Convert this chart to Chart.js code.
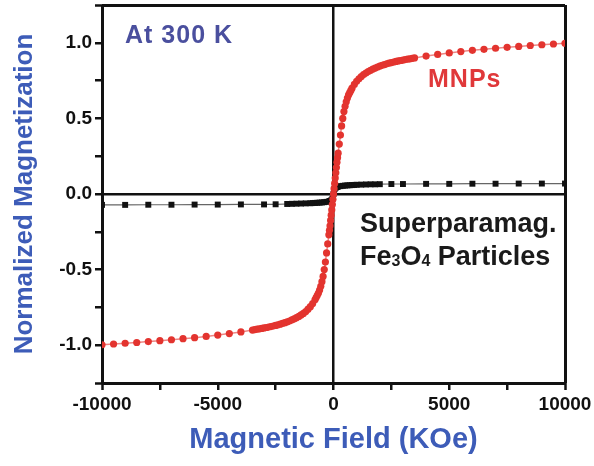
<!DOCTYPE html>
<html lang="en">
<head>
    <meta charset="UTF-8">
    <title>Normalized Magnetization vs Magnetic Field</title>
    <script src="https://cdn.jsdelivr.net/npm/chart.js"></script>
    <style>
        html, body { margin: 0; padding: 0; background: #fff; }
        canvas { display: block; }
    </style>
</head>
<body>
    <canvas id="myChart" width="594" height="466"></canvas>

    <script>
        // MNPs (red dots)
        const mnpField = [
            -10000, -9500, -9000, -8500, -8000, -7500, -7000, -6500, -6000, -5500, -5000, -4500, -4000, -3500,
            -3400, -3300, -3200, -3100, -3000, -2900, -2800, -2700, -2600, -2500, -2400, -2300, -2200, -2100,
            -2000, -1900, -1800, -1700, -1600, -1500, -1400, -1300, -1200, -1100, -1000, -900, -800, -750,
            -700, -650, -600, -550, -500, -450, -400, -350, -300, -250, -200, -175, -150, -125, -100, -75, -50, -25,
            0,
            25, 50, 75, 100, 125, 150, 175, 200, 250, 300, 350, 400, 450, 500, 550, 600, 650, 700,
            750, 800, 900, 1000, 1100, 1200, 1300, 1400, 1500, 1600, 1700, 1800, 1900, 2000,
            2100, 2200, 2300, 2400, 2500, 2600, 2700, 2800, 2900, 3000, 3100, 3200, 3300, 3400,
            3500, 4000, 4500, 5000, 5500, 6000, 6500, 7000, 7500, 8000, 8500, 9000, 9500, 10000
        ];
        const mnpMag = [
            -0.997, -0.992, -0.987, -0.982, -0.976, -0.970, -0.964, -0.957, -0.950, -0.942, -0.933, -0.923, -0.912, -0.900,
            -0.897, -0.894, -0.892, -0.889, -0.886, -0.883, -0.880, -0.877, -0.873, -0.869, -0.865, -0.861, -0.856, -0.851,
            -0.846, -0.840, -0.833, -0.826, -0.818, -0.810, -0.800, -0.790, -0.777, -0.762, -0.745, -0.725, -0.700, -0.685,
            -0.670, -0.655, -0.635, -0.610, -0.580, -0.545, -0.500, -0.450, -0.390, -0.330, -0.270, -0.240, -0.210, -0.175, -0.140, -0.105, -0.070, -0.035,
            0,
            0.035, 0.070, 0.105, 0.140, 0.175, 0.210, 0.240, 0.270, 0.330, 0.390, 0.450, 0.500, 0.545, 0.580, 0.610, 0.635, 0.655, 0.670,
            0.685, 0.700, 0.725, 0.745, 0.762, 0.777, 0.790, 0.800, 0.810, 0.818, 0.826, 0.833, 0.840, 0.846,
            0.851, 0.856, 0.861, 0.865, 0.869, 0.873, 0.877, 0.880, 0.883, 0.886, 0.889, 0.892, 0.894, 0.897,
            0.900, 0.912, 0.923, 0.933, 0.942, 0.950, 0.957, 0.964, 0.970, 0.976, 0.982, 0.987, 0.992, 0.997
        ];

        // Superparamagnetic Fe3O4 particles (black squares)
        const feField = [
            -10000, -9000, -8000, -7000, -6000, -5000, -4000, -3000, -2500,
            -2000, -1800, -1600, -1400, -1200, -1000, -900, -800, -700, -600, -500, -400, -300, -200, -150, -100, -50, -25,
            0,
            25, 50, 100, 150, 200, 300, 400, 500, 600, 700, 800, 900, 1000, 1200, 1400, 1600, 1800, 2000,
            2500, 3000, 4000, 5000, 6000, 7000, 8000, 9000, 10000
        ];
        const feMag = [
            -0.072, -0.072, -0.071, -0.071, -0.070, -0.070, -0.069, -0.069, -0.068,
            -0.066, -0.065, -0.064, -0.063, -0.062, -0.061, -0.060, -0.059, -0.058, -0.057, -0.056, -0.054, -0.052, -0.049, -0.046, -0.042, -0.034, -0.020,
            0,
            0.020, 0.034, 0.042, 0.046, 0.049, 0.052, 0.054, 0.056, 0.057, 0.058, 0.059, 0.060, 0.061, 0.062, 0.063, 0.064, 0.064, 0.065,
            0.066, 0.066, 0.067, 0.067, 0.068, 0.068, 0.069, 0.069, 0.069
        ];

        const xTicks = [-10000, -5000, 0, 5000, 10000];
        const yTicks = [-1.0, -0.5, 0.0, 0.5, 1.0];

        const blue = '#3d5cb8';
        const fontFam = '"Liberation Sans", Arial, Helvetica, sans-serif';

        const toPoints = (xs, ys) => xs.map((x, i) => ({ x: x, y: ys[i] }));

        // frame + zero lines go through the grid of each scale
        const frameColor = (ctx) => {
            const s = ctx.scale;
            const v = ctx.tick ? ctx.tick.value : null;
            return (v === 0 || v === s.min || v === s.max) ? '#111' : 'rgba(0,0,0,0)';
        };
        const frameWidth = (ctx) => {
            const s = ctx.scale;
            const v = ctx.tick ? ctx.tick.value : null;
            return (v === s.min || v === s.max) ? 3 : 2.5;
        };

        // text written inside the plot
        const notesPlugin = {
            id: 'notes',
            afterDatasetsDraw(chart) {
                const ctx = chart.ctx;
                ctx.save();
                ctx.textBaseline = 'alphabetic';
                ctx.textAlign = 'left';

                ctx.font = 'bold 25px ' + fontFam;
                ctx.fillStyle = '#4a4f9e';
                ctx.letterSpacing = '1px';
                ctx.fillText('At 300 K', 125, 43);

                ctx.fillStyle = '#e0383a';
                ctx.fillText('MNPs', 428, 87);

                ctx.letterSpacing = '0px';
                ctx.fillStyle = '#1a1a1a';
                ctx.font = 'bold 27px ' + fontFam;
                ctx.fillText('Superparamag.', 360, 232);

                // Fe3O4 with small subscripts
                const parts = [['Fe', false], ['3', true], ['O', false], ['4', true], [' Particles', false]];
                let x = 360;
                parts.forEach(([t, sub]) => {
                    ctx.font = (sub ? 'bold 16px ' : 'bold 27px ') + fontFam;
                    ctx.fillText(t, x, sub ? 266 : 265);
                    x += ctx.measureText(t).width;
                });
                ctx.restore();
            }
        };

        const ctx = document.getElementById('myChart').getContext('2d');
        const myChart = new Chart(ctx, {
            type: 'scatter',
            data: {
                datasets: [
                    {
                        label: 'MNPs',
                        data: toPoints(mnpField, mnpMag),
                        showLine: true,
                        borderColor: 'rgba(226, 52, 48, 0.6)',
                        borderWidth: 1.5,
                        backgroundColor: '#e3342f',
                        pointBorderWidth: 0,
                        pointRadius: 3.6,
                        pointStyle: 'circle'
                    },
                    {
                        label: 'Superparamag. Fe3O4 Particles',
                        data: toPoints(feField, feMag),
                        showLine: true,
                        borderColor: '#666',
                        borderWidth: 1.2,
                        backgroundColor: '#111',
                        pointBorderWidth: 0,
                        pointRadius: 4.2,
                        pointStyle: 'rect'
                    }
                ]
            },
            options: {
                responsive: false,
                animation: false,
                layout: { padding: { top: 5, right: 29, left: 0, bottom: 0 } },
                plugins: {
                    legend: { display: false },
                    tooltip: { enabled: false }
                },
                scales: {
                    x: {
                        type: 'linear',
                        min: -10000,
                        max: 10000,
                        afterFit: (s) => { s.height = 83; s.paddingLeft = 0; s.paddingRight = 0; },
                        afterBuildTicks: (s) => {
                            s.ticks = [];
                            for (let v = s.min; v <= s.max; v += 2500) s.ticks.push({ value: v });
                        },
                        ticks: {
                            autoSkip: false,
                            maxRotation: 0,
                            padding: 3,
                            color: '#111',
                            font: { family: fontFam, size: 19, weight: 'bold' },
                            callback: (v) => xTicks.includes(v) ? String(v) : ''
                        },
                        grid: {
                            color: frameColor,
                            lineWidth: frameWidth,
                            tickColor: '#111',
                            tickWidth: 2.5,
                            tickLength: 7
                        },
                        border: { display: false },
                        title: {
                            display: true,
                            text: 'Magnetic Field (KOe)',
                            color: blue,
                            font: { family: fontFam, size: 29, weight: 'bold' },
                            padding: { top: 0, bottom: 9 }
                        }
                    },
                    y: {
                        type: 'linear',
                        min: -1.25,
                        max: 1.25,
                        afterFit: (s) => { s.width = 102; s.paddingTop = 0; s.paddingBottom = 0; },
                        afterBuildTicks: (s) => {
                            s.ticks = [];
                            for (let v = s.min; v <= s.max + 1e-9; v += 0.25) s.ticks.push({ value: v });
                        },
                        ticks: {
                            autoSkip: false,
                            padding: 3,
                            color: '#111',
                            font: { family: fontFam, size: 19, weight: 'bold' },
                            callback: (v) => yTicks.includes(v) ? v.toFixed(1) : ''
                        },
                        grid: {
                            color: frameColor,
                            lineWidth: frameWidth,
                            tickColor: '#111',
                            tickWidth: 2.5,
                            tickLength: 7
                        },
                        border: { display: false },
                        title: {
                            display: true,
                            text: 'Normalized Magnetization',
                            color: blue,
                            font: { family: fontFam, size: 26, weight: 'bold' },
                            padding: { top: 9, bottom: 0 }
                        }
                    }
                }
            },
            plugins: [notesPlugin]
        });
    </script>
</body>
</html>
